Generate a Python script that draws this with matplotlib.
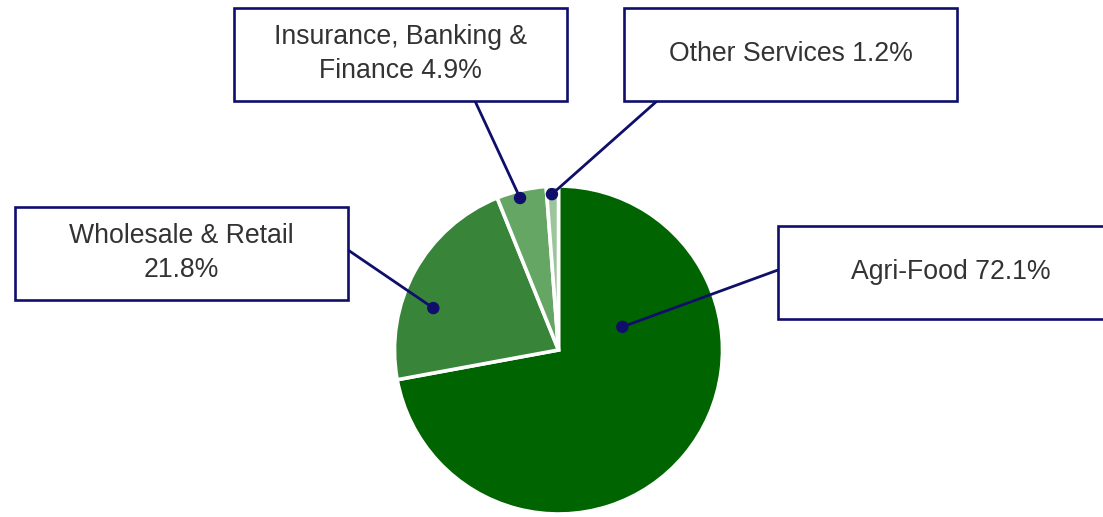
import numpy as np
import matplotlib
matplotlib.use("Agg")
import matplotlib.pyplot as plt
from matplotlib.patches import Rectangle, Circle

categories = ["Agri-Food", "Wholesale & Retail", "Insurance, Banking & Finance", "Other Services"]
label_formats = ["{name} {v}%", "Wholesale & Retail\n{v}%", "Insurance, Banking &\nFinance {v}%", "{name} {v}%"]
values = [72.1, 21.8, 4.9, 1.2]
colors = ["#006400", "#38853a", "#65a665", "#9cc59c"]

# layout (pixel coords, y down from top of 1103x517 canvas)
W, H = 1103, 517
center_px = (558.5, 350)
radius = 164
boxes = [  # x0, y0(top), x1, y1(bottom)
    (778, 226, 1112, 319),
    (15, 207, 348, 300),
    (234, 8, 567, 101),
    (624, 8, 957, 101),
]
text_x = [951, 181.5, 400.5, 791]
box_attach = [(778, 270), (348, 250), (475, 101), (657, 101)]
anchor = [(0.27, 0.414), (0.369, 0.805), (0.44, 0.956), (0.44, 0.951)]

navy = "#0f0f6b"
fig = plt.figure(figsize=(W / 100, H / 100), dpi=100)
ax = fig.add_axes([0, 0, 1, 1])

cx, cy = center_px[0], H - center_px[1]
wedges, _ = ax.pie(values, colors=colors, startangle=90, counterclock=False,
                   center=(cx, cy), radius=radius,
                   wedgeprops=dict(edgecolor="white", linewidth=2.6))
ax.set_xlim(0, W)
ax.set_ylim(0, H)
ax.set_aspect("equal")
ax.axis("off")

for w, name, fmt, val, (bx0, by0, bx1, by1), txx, (ax_x, ax_y), (fr, rf) in zip(
        wedges, categories, label_formats, values, boxes, text_x, box_attach, anchor):
    t1, t2 = w.theta1, w.theta2
    ang = np.deg2rad(t2 - fr * (t2 - t1))
    px = cx + rf * radius * np.cos(ang)
    py = cy + rf * radius * np.sin(ang)
    ax.plot([px, ax_x], [py, H - ax_y], color=navy, lw=2.0, zorder=3, solid_capstyle="butt")
    ax.add_patch(Circle((px, py), 5.5, color=navy, zorder=4))
    ax.add_patch(Rectangle((bx0, H - by1), bx1 - bx0, by1 - by0, facecolor="white",
                           edgecolor=navy, lw=1.9, zorder=5))
    txt = fmt.format(name=name, v=val)
    ty = H - (by0 + by1) / 2 + 0.5
    ax.text(txx, ty, txt, ha="center", va="center", fontsize=19.2, color="#333333",
            family=["Liberation Sans", "DejaVu Sans"], linespacing=1.42, zorder=6)

fig.savefig("out.png", dpi=100)
